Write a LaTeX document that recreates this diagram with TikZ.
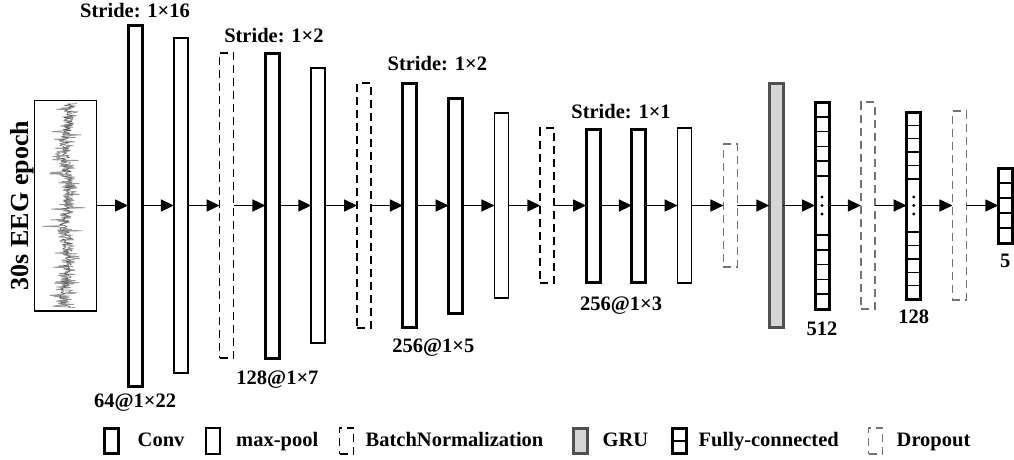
\documentclass[tikz,border=0pt]{standalone}
\usepackage{fontspec}
\setmainfont{Liberation Serif}
\usepackage{tikz}
\usetikzlibrary{
  arrows.meta,
  calc,
  positioning,
}
\tikzstyle{flow} = [
  -{Triangle[length=13pt,width=12pt]},
  line width=1.5pt,
  black,
]
\definecolor{dropgray}{RGB}{115, 115, 115}
\definecolor{grudark}{RGB}{80, 80, 80}
\definecolor{grufill}{RGB}{214, 214, 214}
\definecolor{eeggray}{RGB}{125, 125, 125}
\tikzset{
  layer/.style={draw, rectangle, minimum width=14, inner sep=0pt, outer sep=0pt},
  conv/.style={layer, line width=3pt},
  pool/.style={layer, line width=1.6pt},
  bnorm/.style={layer, line width=1.6pt, dash pattern=on 8pt off 5pt},
  drop/.style={bnorm, draw=dropgray},
  gru/.style={layer, line width=3pt, draw=grudark, fill=grufill},
  dense/.style={layer, line width=3pt},
  lbl/.style={font=\bfseries\fontsize{20.5}{24}\selectfont, inner sep=1pt},
  keytext/.style={lbl, text height=14pt, text depth=4pt},
}

\begin{document}
\begin{tikzpicture}[x=1pt, y=1pt, node distance=0pt and 31.8pt]
  \useasboundingbox (-65.5,-253.5) rectangle (948.5,205.5);

  % input epoch
  \node[draw, rectangle, line width=1.5pt, outer sep=0pt, minimum width=61.5, minimum height=210.5] (eeg) at (0,0) {};
  \begin{scope}
    \clip (eeg.south west) rectangle (eeg.north east);
    \pgfmathsetseed{42}
    \draw[eeggray!80, line width=0.8pt, line join=round]
      plot[domain=-102:102, samples=320, variable=\t]
      ({1+2*sin(\t*5)+8*rand+22*rand*rand*rand}, \t);
    \draw[black!65, line width=0.5pt, line join=round]
      plot[domain=-102:102, samples=220, variable=\t]
      ({1+2*sin(\t*5)+5*rand}, \t);
  \end{scope}
  \node[rotate=90, anchor=south, inner sep=1pt, font=\bfseries\fontsize{26}{30}\selectfont] (epoch) at (eeg.west) {30s EEG epoch};

  % feature extractor
  \node[conv,  minimum height=361]   (c1) [right=of eeg] {};
  \node[pool,  minimum height=335.5] (p1) [right=of c1]  {};
  \node[bnorm, minimum height=305.5] (b1) [right=of p1]  {};
  \node[conv,  minimum height=305]   (c2) [right=of b1]  {};
  \node[pool,  minimum height=274.5] (p2) [right=of c2]  {};
  \node[bnorm, minimum height=244.5] (b2) [right=of p2]  {};
  \node[conv,  minimum height=244]   (c3) [right=of b2]  {};
  \node[conv,  minimum height=215]   (c4) [right=of c3]  {};
  \node[pool,  minimum height=184.5] (p3) [right=of c4]  {};
  \node[bnorm, minimum height=154.5] (b3) [right=of p3]  {};
  \node[conv,  minimum height=153]   (c5) [right=of b3]  {};
  \node[conv,  minimum height=153]   (c6) [right=of c5]  {};
  \node[pool,  minimum height=154.5] (p4) [right=of c6]  {};

  % classifier
  \node[drop,  minimum height=122.5] (d1)  [right=of p4]  {};
  \node[gru,   minimum height=244]   (gru) [right=of d1]  {};
  \node[dense, minimum height=207]   (fc1) [right=of gru] {};
  \node[drop,  minimum height=206.5] (d2)  [right=of fc1] {};
  \node[dense, minimum height=187]   (fc2) [right=of d2]  {};
  \node[drop,  minimum height=188.5] (d3)  [right=of fc2] {};
  \node[dense, minimum height=75]    (fc3) [right=of d3]  {};

  % neurons of the dense layers
  \foreach \n in {fc1,fc2} {
    \foreach \i in {1,...,5,9,10,...,13}
      \draw[line width=1.5pt] ($(\n.north west)!\i/14!(\n.south west)$) -- ($(\n.north east)!\i/14!(\n.south east)$);
    \foreach \d in {-8.5,0,8.5}
      \fill ($(\n.center)+(0,\d)$) circle (1.6pt);
  }
  \foreach \i in {1,...,4}
    \draw[line width=1.5pt] ($(fc3.north west)!\i/5!(fc3.south west)$) -- ($(fc3.north east)!\i/5!(fc3.south east)$);

  \foreach \a/\b in {eeg/c1, c1/p1, p1/b1, b1/c2, c2/p2, p2/b2, b2/c3, c3/c4, c4/p3, p3/b3,
                     b3/c5, c5/c6, c6/p4, p4/d1, d1/gru, gru/fc1, fc1/d2, d2/fc2, fc2/d3, d3/fc3}
    \draw[flow] (\a) -- (\b);

  % strides and output shapes
  \node[lbl, above=6.5pt of c1] (s1) {Stride: 1×16};
  \node[lbl, below=6.5pt of c1] (o1) {64@1×22};
  \node[lbl, above=9.5pt of c2, xshift=1.5pt] (s2) {Stride: 1×2};
  \node[lbl, below=11.5pt of c2, xshift=5pt] (o2) {128@1×7};
  \node[lbl, above=12pt of c3, xshift=27.5pt] (s3) {Stride: 1×2};
  \node[lbl, below=10.5pt of c3, xshift=23.5pt] (o3) {256@1×5};
  \node[lbl, above=9.5pt of c5, xshift=28pt] (s4) {Stride: 1×1};
  \node[lbl, below=13.5pt of c5, xshift=28pt] (o4) {256@1×3};
  \node[lbl, below=11.5pt of fc1] (n1) {512};
  \node[lbl, below=9.5pt of fc2] (n2) {128};
  \node[lbl, below=9.5pt of fc3] (n3) {5};

  % legend
  \node[conv,  minimum height=25]   (kconv) at (46,-235.5)  {};
  \node[keytext, right=18pt of kconv] {Conv};
  \node[pool,  minimum height=26.5] (kpool) at (147.5,-235.5) {};
  \node[keytext, right=15pt of kpool] {max-pool};
  \node[bnorm, minimum height=26.5] (kbn)   at (281,-235.5) {};
  \node[keytext, right=11pt of kbn] {BatchNormalization};
  \node[gru,   minimum height=25]   (kgru)  at (515,-235.5) {};
  \node[keytext, right=14pt of kgru] {GRU};
  \node[dense, minimum height=25]   (kfc)   at (614,-235.5) {};
  \draw[line width=1.5pt] (kfc.west) -- (kfc.east);
  \node[keytext, right=11pt of kfc] {Fully-connected};
  \node[drop,  minimum height=26.5] (kdrop) at (810,-235.5) {};
  \node[keytext, right=13pt of kdrop] {Dropout};
\end{tikzpicture}
\end{document}
